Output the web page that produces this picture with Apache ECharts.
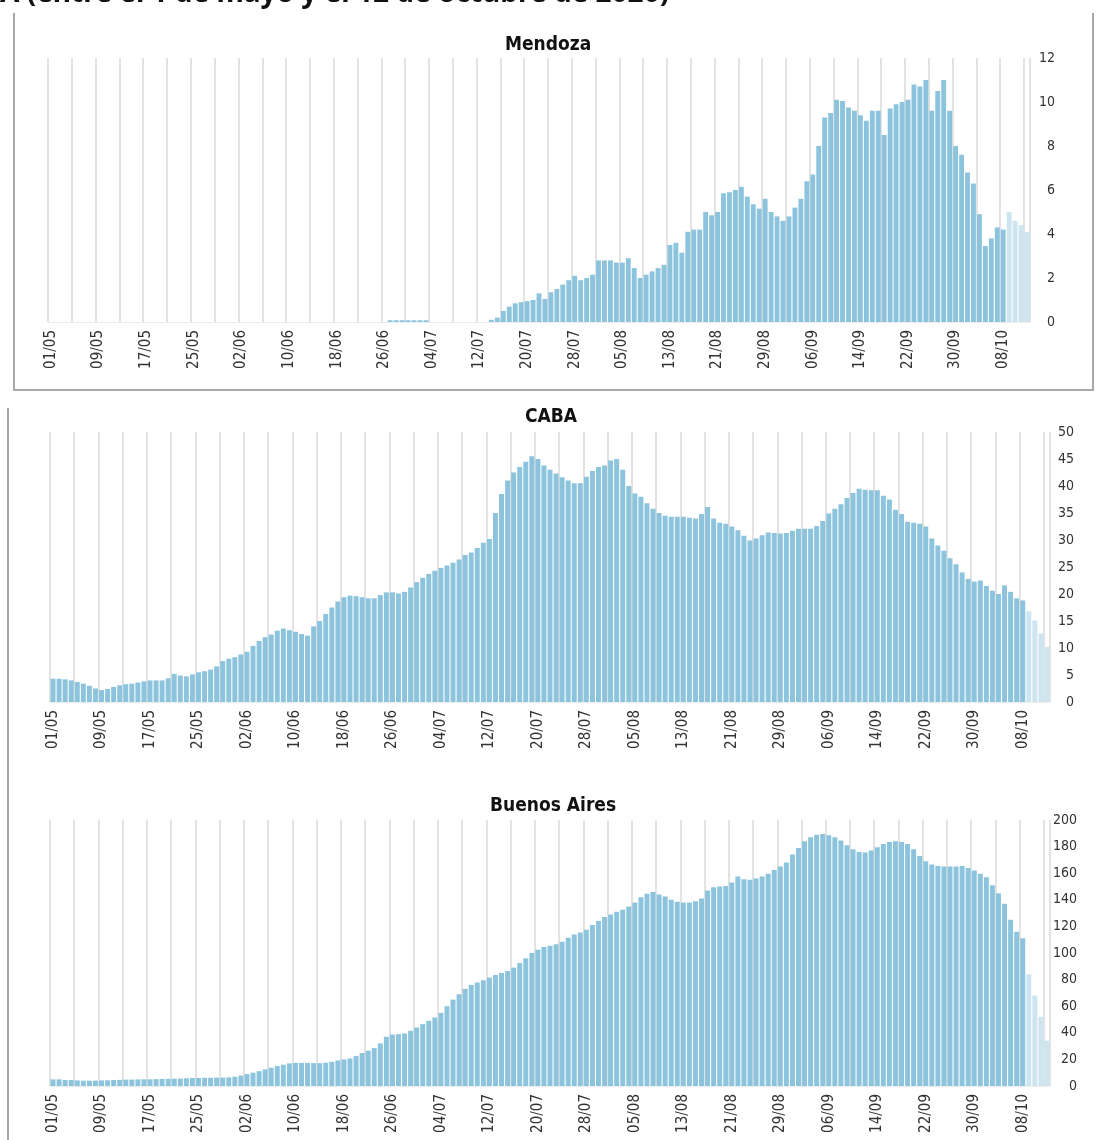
<!DOCTYPE html>
<html>
<head>
<meta charset="utf-8">
<script src="https://cdn.jsdelivr.net/npm/echarts@6/dist/echarts.min.js"></script>
<style>
  html, body { margin: 0; padding: 0; background: #fff; }
  #chart { width: 1107px; height: 1140px; }
</style>
</head>
<body>
<div id="chart"></div>
<script>
////--------------------------------------------------------------------////
// dias del 01/05 al 12/10 (165 dias)
const start_day = new Date(2020, 4, 1);
const day_count = 165;
const days = [];
for (let index = 0; index < day_count; index++) {
    const d = new Date(start_day.getFullYear(), start_day.getMonth(), start_day.getDate() + index);
    days.push(String(d.getDate()).padStart(2, '0') + '/' + String(d.getMonth() + 1).padStart(2, '0'));
}
// ultimos dias con datos incompletos (barras claras)
const last_full_day = 160;

const mendoza_ticks = [0, 2, 4, 6, 8, 10, 12];
const caba_ticks    = [0, 5, 10, 15, 20, 25, 30, 35, 40, 45, 50];
const bsas_ticks    = [0, 20, 40, 60, 80, 100, 120, 140, 160, 180, 200];

const mendoza = [
    0,0,0,0,0,0,0,0,0,0, 0,0,0,0,0,0,0,0,0,0,
    0,0,0,0,0,0,0,0,0,0, 0,0,0,0,0,0,0,0,0,0,
    0,0,0,0,0,0,0,0,0,0, 0,0,0,0,0,0,0,0.08,0.08,0.08,
    0.08,0.08,0.08,0.08,0,0,0,0,0,0, 0,0,0,0,0.1,0.2,0.5,0.7,0.85,0.9,
    0.95,1.0,1.3,1.05,1.35,1.5,1.7,1.9,2.1,1.9, 2.0,2.15,2.8,2.8,2.8,2.7,2.7,2.9,2.45,2.0,
    2.15,2.3,2.45,2.6,3.5,3.6,3.15,4.1,4.2,4.2, 5.0,4.85,5.0,5.85,5.9,6.0,6.15,5.7,5.35,5.15,
    5.6,5.0,4.8,4.6,4.8,5.2,5.6,6.4,6.7,8.0, 9.3,9.5,10.1,10.05,9.75,9.6,9.4,9.15,9.6,9.6,
    8.5,9.7,9.9,10.0,10.1,10.8,10.7,11.0,9.6,10.5, 11.0,9.6,8.0,7.6,6.8,6.3,4.9,3.45,3.8,4.3,
    4.2,5.0,4.6,4.4,4.1
];

const caba = [
    4.3,4.3,4.2,4.0,3.7,3.4,3.0,2.5,2.2,2.4, 2.8,3.1,3.3,3.4,3.6,3.8,4.0,4.0,4.0,4.4,
    5.2,4.9,4.75,5.1,5.5,5.7,6.0,6.6,7.6,8.0, 8.3,8.8,9.3,10.4,11.3,12.0,12.5,13.2,13.6,13.3,
    13.0,12.6,12.3,14.0,15.0,16.3,17.5,18.6,19.4,19.7, 19.6,19.4,19.2,19.2,19.8,20.3,20.3,20.1,20.4,21.2,
    22.2,23.0,23.7,24.3,24.8,25.3,25.8,26.4,27.2,27.7, 28.5,29.5,30.2,35.0,38.5,41.0,42.5,43.5,44.5,45.5,
    45.0,43.8,43.0,42.3,41.6,41.0,40.5,40.5,41.7,42.8, 43.5,43.8,44.7,45.0,43.0,40.0,38.6,38.0,36.8,35.8,
    35.0,34.5,34.3,34.3,34.3,34.1,34.0,34.8,36.1,34.0, 33.2,33.0,32.5,31.8,30.8,29.9,30.3,30.9,31.4,31.3,
    31.2,31.3,31.7,32.1,32.1,32.1,32.6,33.5,34.9,35.8, 36.6,37.8,38.7,39.5,39.3,39.2,39.2,38.2,37.5,35.6,
    34.8,33.4,33.2,33.0,32.5,30.3,29.0,28.0,26.6,25.5, 24.0,22.8,22.3,22.5,21.5,20.6,20.0,21.6,20.4,19.2,
    18.8,16.8,15.1,12.7,10.2
];

const bsas = [
    5,5,4.5,4.5,4.2,4,4,4,4.2,4.3, 4.5,4.6,4.8,4.8,5,5,5,5.2,5.3,5.4,
    5.5,5.6,5.8,6,6,6.2,6.2,6.3,6.3,6.5, 7,7.8,9,10,11.2,12.5,13.7,15,16,17,
    17.4,17.4,17.4,17.2,17.2,17.5,18.2,19.2,20,20.7, 22.5,24.8,26.5,28.5,32,37,38.6,39,39.5,41.5,
    44,46.5,49,51.5,55,60,65,69,73,76, 77.8,79.5,81.5,83.5,85,86.5,89,92.5,96,100,
    102.5,104.5,105.5,106.5,108.5,111.5,114,115.5,117.5,121, 124,127,129,131,132.5,135,138,142,144.5,145.8,
    144,142.5,140,138.5,138,138,139,141,147,149.5, 150,150.3,153,157.5,155.5,155,156,157.5,159.5,162.5,
    165,168,174,179,184,187,189,189.5,188.5,187, 184.5,181,178,176,175.5,177,179.5,182,183.5,184,
    183.5,182,178,173,169,166.5,165.5,165,165,165, 165.5,164,162,159.5,157,151,145,137,125,116,
    111,84,68,52,34
];
////--------------------------------------------------------------------////
const bar_color   = '#8cc4dd';
const light_color = '#cde5f0';
const grid_color  = '#e3e3e3';
const narrow      = "'Liberation Sans Narrow', 'DejaVu Sans Condensed', sans-serif";

function bar_data(values) {
    return values.map((v, i) => i > last_full_day ? { value: v, itemStyle: { color: light_color } } : v);
}

function x_axis(grid_index) {
    return {
        type: 'category',
        gridIndex: grid_index,
        data: days,
        boundaryGap: true,
        axisLine: { show: true, lineStyle: { color: '#ececec', width: 1 } },
        axisTick: { show: false },
        axisLabel: {
            interval: 7, rotate: 90, margin: 8,
            fontFamily: narrow, fontSize: 15, color: '#333'
        },
        splitLine: {
            show: true,
            interval: function (index) { return index % 4 === 0; },
            lineStyle: { color: grid_color, width: 2 }
        }
    };
}

function y_axis(grid_index, ticks, margin) {
    return {
        type: 'value',
        gridIndex: grid_index,
        position: 'right',
        min: ticks[0],
        max: ticks[ticks.length - 1],
        interval: ticks[1] - ticks[0],
        axisLine: { show: false },
        axisTick: { show: false },
        splitLine: { show: false },
        axisLabel: {
            align: 'right', margin: margin,
            fontFamily: narrow, fontSize: 14, color: '#333'
        }
    };
}

function bar_series(index, values) {
    return {
        type: 'bar',
        xAxisIndex: index,
        yAxisIndex: index,
        data: bar_data(values),
        barCategoryGap: '18%',
        itemStyle: { color: bar_color },
        silent: true,
        animation: false
    };
}

const option = {
    backgroundColor: '#fff',
    animation: false,
    grid: [
        { left: 48, top: 58,  width: 982,  height: 264 },
        { left: 50, top: 432, width: 1000, height: 270 },
        { left: 50, top: 820, width: 1000, height: 266 }
    ],
    xAxis: [x_axis(0), x_axis(1), x_axis(2)],
    yAxis: [y_axis(0, mendoza_ticks, 25), y_axis(1, caba_ticks, 24), y_axis(2, bsas_ticks, 27)],
    series: [bar_series(0, mendoza), bar_series(1, caba), bar_series(2, bsas)],
    graphic: [
        {
            type: 'text', left: 0, top: -20,
            style: {
                text: 'A (entre el 1 de mayo y el 12 de octubre de 2020)',
                font: "bold 28px 'Noto Sans', sans-serif",
                fill: '#111'
            }
        },
        {
            type: 'polyline',
            shape: { points: [[14, 13], [14, 390], [1093, 390], [1093, 13]] },
            style: { stroke: '#a8a8a8', lineWidth: 2, fill: null }
        },
        {
            type: 'line',
            shape: { x1: 8, y1: 408, x2: 8, y2: 1140 },
            style: { stroke: '#a8a8a8', lineWidth: 2 }
        },
        { type: 'text', left: 505, top: 36,  style: { text: 'Mendoza',      font: "bold 19px " + narrow, fill: '#111' } },
        { type: 'text', left: 525, top: 408, style: { text: 'CABA',         font: "bold 19px " + narrow, fill: '#111' } },
        { type: 'text', left: 490, top: 797, style: { text: 'Buenos Aires', font: "bold 19px " + narrow, fill: '#111' } }
    ]
};

const chart = echarts.init(document.getElementById('chart'), null, { renderer: 'canvas' });
chart.setOption(option);
window.addEventListener('resize', chart.resize);
</script>
</body>
</html>
